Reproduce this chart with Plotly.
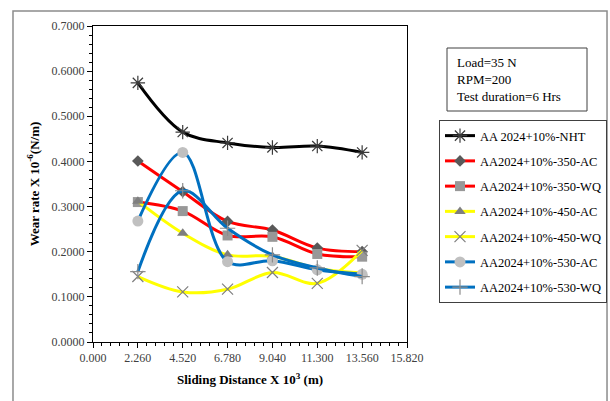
import plotly.graph_objects as go

# Sliding distance (x 10^3 m)
distance = [2.26, 4.52, 6.78, 9.04, 11.30, 13.56]

# Wear rate (x 10^-6 N/m) per specimen condition
nht = [0.574, 0.465, 0.441, 0.431, 0.434, 0.420]
ac_350 = [0.401, 0.333, 0.267, 0.248, 0.208, 0.200]
wq_350 = [0.310, 0.290, 0.236, 0.233, 0.195, 0.189]
ac_450 = [0.312, 0.241, 0.193, 0.190, 0.163, 0.153]
wq_450 = [0.145, 0.111, 0.117, 0.154, 0.130, 0.203]
ac_530 = [0.268, 0.420, 0.178, 0.180, 0.160, 0.150]
wq_530 = [0.156, 0.335, 0.252, 0.193, 0.164, 0.145]

series_names = [
    "AA 2024+10%-NHT",
    "AA2024+10%-350-AC",
    "AA2024+10%-350-WQ",
    "AA2024+10%-450-AC",
    "AA2024+10%-450-WQ",
    "AA2024+10%-530-AC",
    "AA2024+10%-530-WQ",
]
series_values = [nht, ac_350, wq_350, ac_450, wq_450, ac_530, wq_530]

x_ticks = [0.0, 2.26, 4.52, 6.78, 9.04, 11.30, 13.56, 15.82]
x_tick_text = ["0.000", "2.260", "4.520", "6.780", "9.040", "11.300", "13.560", "15.820"]
y_ticks = [0.0, 0.1, 0.2, 0.3, 0.4, 0.5, 0.6, 0.7]
y_tick_text = ["0.0000", "0.1000", "0.2000", "0.3000", "0.4000", "0.5000", "0.6000", "0.7000"]

styles = [
    dict(line="#000000", symbol="asterisk-open", mcolor="#3a3a3a", size=12),
    dict(line="#ff0000", symbol="diamond", mcolor="#595959", size=9),
    dict(line="#ff0000", symbol="square", mcolor="#989898", size=10),
    dict(line="#ffff00", symbol="triangle-up", mcolor="#7f7f7f", size=10),
    dict(line="#ffff00", symbol="x-thin-open", mcolor="#7f7f7f", size=11),
    dict(line="#0070c0", symbol="circle", mcolor="#c0c0c0", size=11),
    dict(line="#0070c0", symbol="cross-thin-open", mcolor="#8c8c8c", size=11),
]

serif = "Liberation Serif, Times New Roman, serif"

fig = go.Figure()
for i, (name, vals, st) in enumerate(zip(series_names, series_values, styles)):
    open_sym = st["symbol"].endswith("open")
    fig.add_trace(go.Scatter(
        x=distance, y=vals, name=name, mode="lines+markers",
        legendgroup=f"g{i}",
        line=dict(color=st["line"], width=3, shape="spline", smoothing=1.0),
        marker=dict(
            symbol=st["symbol"], size=st["size"], color=st["mcolor"],
            line=dict(color=st["mcolor"], width=1.2 if open_sym else 0),
        ),
    ))

fig.update_layout(
    width=610, height=401,
    margin=dict(l=93, r=203, t=26, b=59, autoexpand=False),
    paper_bgcolor="white", plot_bgcolor="white",
    font=dict(family=serif, size=12, color="#404040"),
    showlegend=True,
    legend=dict(
        x=(439 - 93) / 314, y=(342 - 120) / 316, xanchor="left", yanchor="top",
        bordercolor="#404040", borderwidth=1,
        font=dict(family=serif, size=12.5, color="#000000"),
        tracegroupgap=6, itemwidth=30,
    ),
    xaxis=dict(
        range=[0, 15.82], tickvals=x_ticks, ticktext=x_tick_text,
        showline=True, linecolor="#000000", linewidth=1, mirror=True,
        ticks="outside", ticklen=5, tickcolor="#000000",
        minor=dict(tick0=0, dtick=0.452, ticks="outside", ticklen=3, tickcolor="#000000"),
        showgrid=False, zeroline=False,
        tickfont=dict(family=serif, size=12, color="#404040"),
        title=dict(text="<b>Sliding Distance X 10<sup>3</sup> (m)</b>",
                   font=dict(family=serif, size=13, color="#000000"), standoff=10),
    ),
    yaxis=dict(
        range=[0, 0.7], tickvals=y_ticks, ticktext=y_tick_text,
        showline=True, linecolor="#000000", linewidth=1, mirror=True,
        ticks="outside", ticklen=5, tickcolor="#000000",
        minor=dict(tick0=0, dtick=0.02, ticks="outside", ticklen=3, tickcolor="#000000"),
        showgrid=False, zeroline=False,
        tickfont=dict(family=serif, size=12, color="#404040"),
        title=dict(text="<b>Wear rate X 10<sup>-6</sup>(N/m)</b>",
                   font=dict(family=serif, size=13, color="#000000"), standoff=9),
    ),
)

# Outer chart frame
fig.add_shape(type="rect", xref="paper", yref="paper",
              x0=-0.2548, x1=1.637, y0=-0.2, y1=1.0475,
              line=dict(color="#8c8c8c", width=1.5), layer="below")

# Test conditions box
fig.add_shape(type="rect", xref="paper", yref="paper",
              x0=(447 - 93) / 314, x1=(587 - 93) / 314,
              y0=(342 - 111) / 316, y1=(342 - 48) / 316,
              line=dict(color="#404040", width=1))
fig.add_annotation(
    xref="paper", yref="paper", x=(455 - 93) / 314, y=(342 - 53) / 316,
    xanchor="left", yanchor="top", align="left", showarrow=False,
    text="Load=35 N<br>RPM=200<br>Test duration=6 Hrs",
    font=dict(family=serif, size=13, color="#000000"),
)

fig.write_html("out.html")
